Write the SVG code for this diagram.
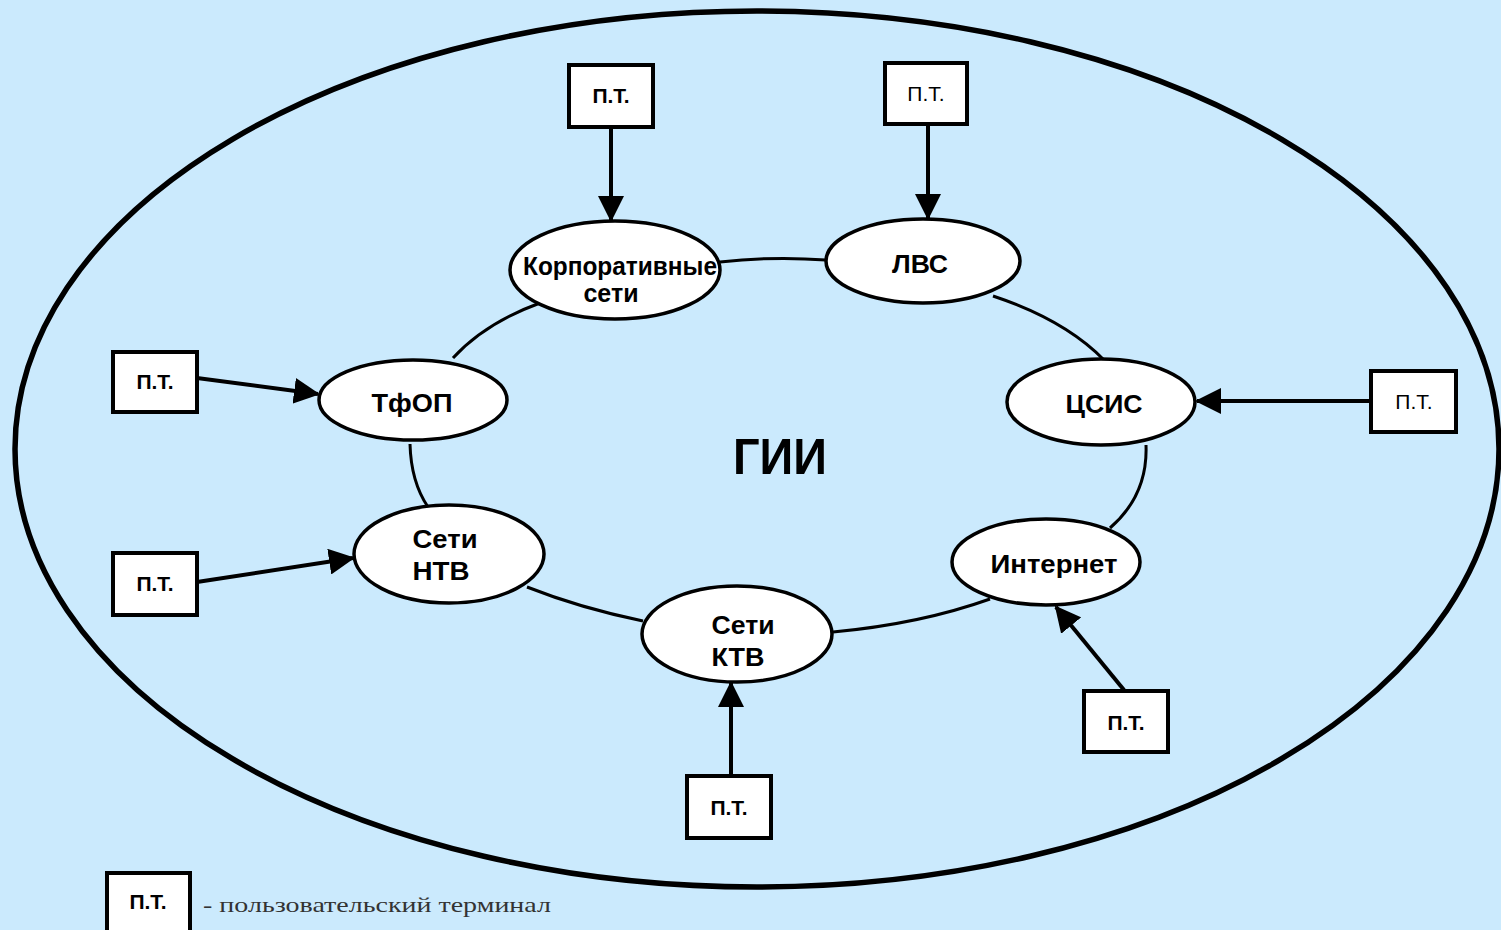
<svg xmlns="http://www.w3.org/2000/svg" width="1501" height="930" viewBox="0 0 1501 930">
  <style>
    .net { fill: #ffffff; stroke: #000; stroke-width: 3.5; }
    .pt { fill: #ffffff; stroke: #000; stroke-width: 4; }
    .lbl { font-family: "Liberation Sans", Arial, sans-serif; font-weight: bold; font-size: 25px; fill: #000; text-anchor: middle; }
    .ptl { font-family: "Liberation Sans", Arial, sans-serif; font-weight: bold; font-size: 21px; fill: #000; text-anchor: middle; }
    .ptn { font-weight: normal; }
    .ring { fill: none; stroke: #000; stroke-width: 3; }
    .link { fill: none; stroke: #000; stroke-width: 4; }
  </style>
  <defs>
    <marker id="arrow" markerUnits="userSpaceOnUse" markerWidth="26" markerHeight="26" refX="24" refY="13" orient="auto">
      <path d="M0,0 L26,13 L0,26 z" fill="#000"/>
    </marker>
  </defs>

  <!-- background -->
  <rect x="0" y="0" width="1501" height="930" fill="#cbeafd"/>

  <!-- outer boundary: global information infrastructure -->
  <ellipse cx="757" cy="449" rx="742" ry="438" fill="none" stroke="#000" stroke-width="5.5"/>
  <text x="780" y="474" font-family="Liberation Sans, Arial, sans-serif" font-weight="bold" font-size="50" text-anchor="middle" textLength="94" lengthAdjust="spacingAndGlyphs">ГИИ</text>

  <!-- ring links between networks -->
  <g id="connectors">
    <path class="ring" d="M720,262 Q773,256 826,260"/>
    <path class="ring" d="M993,296 Q1065,320 1104,360"/>
    <path class="ring" d="M1146,445 Q1148,495 1110,528"/>
    <path class="ring" d="M990,599 Q920,624 833,632"/>
    <path class="ring" d="M643,621 Q580,608 527,587"/>
    <path class="ring" d="M428,507 Q411,482 410,444"/>
    <path class="ring" d="M453,358 Q485,323 540,303"/>

    <!-- user terminal links -->
    <line class="link" x1="611" y1="127" x2="611" y2="220" marker-end="url(#arrow)"/>
    <line class="link" x1="928" y1="124" x2="928" y2="218" marker-end="url(#arrow)"/>
    <line class="link" x1="197" y1="378" x2="318" y2="394" marker-end="url(#arrow)"/>
    <line class="link" x1="197" y1="582" x2="353" y2="558" marker-end="url(#arrow)"/>
    <line class="link" x1="1371" y1="401" x2="1197" y2="401" marker-end="url(#arrow)"/>
    <line class="link" x1="1124" y1="690" x2="1056" y2="607" marker-end="url(#arrow)"/>
    <line class="link" x1="731" y1="776" x2="731" y2="683" marker-end="url(#arrow)"/>
  </g>

  <!-- networks -->
  <g id="node-corp">
    <ellipse class="net" cx="615" cy="270" rx="105" ry="49"/>
    <text class="lbl" x="620" y="275" textLength="194" lengthAdjust="spacingAndGlyphs">Корпоративные</text>
    <text class="lbl" x="611" y="302" font-size="24">сети</text>
  </g>
  <g id="node-lvs">
    <ellipse class="net" cx="923" cy="261" rx="97" ry="42"/>
    <text class="lbl" x="920" y="273" textLength="56" lengthAdjust="spacingAndGlyphs">ЛВС</text>
  </g>
  <g id="node-tfop">
    <ellipse class="net" cx="413" cy="400" rx="94" ry="40"/>
    <text class="lbl" x="412" y="412" textLength="81" lengthAdjust="spacingAndGlyphs">ТфОП</text>
  </g>
  <g id="node-ntv">
    <ellipse class="net" cx="449" cy="554" rx="95" ry="49"/>
    <text class="lbl" x="445" y="548" textLength="65" lengthAdjust="spacingAndGlyphs">Сети</text>
    <text class="lbl" x="441" y="580" textLength="57" lengthAdjust="spacingAndGlyphs">НТВ</text>
  </g>
  <g id="node-csis">
    <ellipse class="net" cx="1101" cy="402" rx="94" ry="43"/>
    <text class="lbl" x="1104" y="413" textLength="77" lengthAdjust="spacingAndGlyphs">ЦСИС</text>
  </g>
  <g id="node-internet">
    <ellipse class="net" cx="1046" cy="562" rx="94" ry="43"/>
    <text class="lbl" x="1054" y="573" textLength="127" lengthAdjust="spacingAndGlyphs">Интернет</text>
  </g>
  <g id="node-ktv">
    <ellipse class="net" cx="737" cy="634" rx="95" ry="48"/>
    <text class="lbl" x="743" y="634" textLength="63" lengthAdjust="spacingAndGlyphs">Сети</text>
    <text class="lbl" x="738" y="666" textLength="53" lengthAdjust="spacingAndGlyphs">КТВ</text>
  </g>

  <!-- user terminals -->
  <g id="pt-corp">
    <rect class="pt" x="569" y="65" width="84" height="62"/>
    <text class="ptl" x="611" y="103">П.Т.</text>
  </g>
  <g id="pt-lvs">
    <rect class="pt" x="885" y="63" width="82" height="61"/>
    <text class="ptl ptn" x="926" y="101">П.Т.</text>
  </g>
  <g id="pt-tfop">
    <rect class="pt" x="113" y="352" width="84" height="60"/>
    <text class="ptl" x="155" y="389">П.Т.</text>
  </g>
  <g id="pt-ntv">
    <rect class="pt" x="113" y="553" width="84" height="62"/>
    <text class="ptl" x="155" y="591">П.Т.</text>
  </g>
  <g id="pt-csis">
    <rect class="pt" x="1371" y="371" width="85" height="61"/>
    <text class="ptl ptn" x="1414" y="409">П.Т.</text>
  </g>
  <g id="pt-internet">
    <rect class="pt" x="1084" y="691" width="84" height="61"/>
    <text class="ptl" x="1126" y="730">П.Т.</text>
  </g>
  <g id="pt-ktv">
    <rect class="pt" x="687" y="776" width="84" height="62"/>
    <text class="ptl" x="729" y="815">П.Т.</text>
  </g>

  <!-- legend -->
  <g id="legend">
    <rect class="pt" x="107" y="873" width="83" height="60"/>
    <text class="ptl" x="148" y="909">П.Т.</text>
    <text x="203" y="912" font-family="Liberation Serif, Times New Roman, serif" font-size="22" fill="#333" textLength="348" lengthAdjust="spacingAndGlyphs">- пользовательский терминал</text>
  </g>
</svg>
